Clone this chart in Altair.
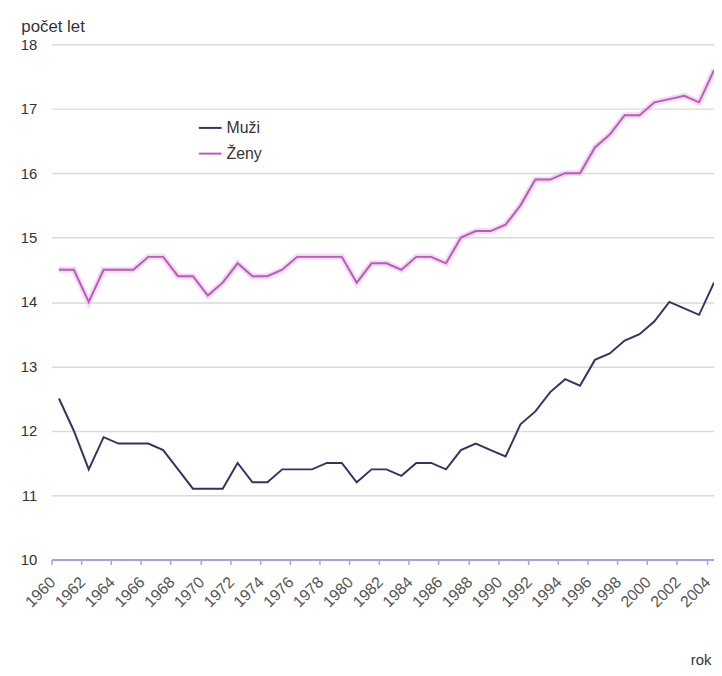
import altair as alt
import pandas as pd

years = list(range(1960, 2005))
muzi = [12.5, 12.0, 11.4, 11.9, 11.8, 11.8, 11.8, 11.7, 11.4, 11.1,
        11.1, 11.1, 11.5, 11.2, 11.2, 11.4, 11.4, 11.4, 11.5, 11.5,
        11.2, 11.4, 11.4, 11.3, 11.5, 11.5, 11.4, 11.7, 11.8, 11.7,
        11.6, 12.1, 12.3, 12.6, 12.8, 12.7, 13.1, 13.2, 13.4, 13.5,
        13.7, 14.0, 13.9, 13.8, 14.3]
zeny = [14.5, 14.5, 14.0, 14.5, 14.5, 14.5, 14.7, 14.7, 14.4, 14.4,
        14.1, 14.3, 14.6, 14.4, 14.4, 14.5, 14.7, 14.7, 14.7, 14.7,
        14.3, 14.6, 14.6, 14.5, 14.7, 14.7, 14.6, 15.0, 15.1, 15.1,
        15.2, 15.5, 15.9, 15.9, 16.0, 16.0, 16.4, 16.6, 16.9, 16.9,
        17.1, 17.15, 17.2, 17.1, 17.6]
series_names = ["Muži", "Ženy"]
series_colors = ["#333366", "#b95cb9"]
tick_years = list(range(1960, 2005, 2))
y_ticks = list(range(10, 19))

df = pd.DataFrame({
    "rok": years * 2,
    "hodnota": muzi + zeny,
    "pohlavi": [series_names[0]] * len(years) + [series_names[1]] * len(years),
})

FONT = "Liberation Sans"

x_enc = alt.X(
    "rok:Q",
    scale=alt.Scale(domain=[1959.5, 2004], nice=False, zero=False),
    axis=alt.Axis(
        values=tick_years, format="d", labelAngle=315, labelAlign="right",
        labelBaseline="middle", tickOffset=-7.5, labelOffset=1, grid=False,
        labelOverlap=False, labelBound=False,
        domainColor="#a3a3e6", domainWidth=2, tickColor="#a3a3e6", tickWidth=1.5,
        tickSize=5, labelPadding=15, labelFontSize=16, labelColor="#555555",
        title="rok", titleX=646, titleY=106, titleAlign="left",
        titleBaseline="alphabetic", titleFontWeight="normal", titleFontSize=15,
        titleColor="#333333",
    ),
)
y_enc = alt.Y(
    "hodnota:Q",
    scale=alt.Scale(domain=[10, 18], nice=False, zero=False),
    axis=alt.Axis(
        values=y_ticks, grid=True, gridColor="#dadada", gridWidth=1.5,
        domain=False, ticks=False, labelPadding=15, labelFontSize=15,
        labelColor="#333333",
        title="počet let", titleAngle=0, titleX=-31, titleY=-13,
        titleAlign="left", titleBaseline="alphabetic", titleFontWeight="normal",
        titleFontSize=17, titleColor="#333333",
    ),
)

halo = alt.Chart(df).transform_filter(
    alt.datum.pohlavi == series_names[1]
).mark_line(clip=True, strokeWidth=6, opacity=0.5, color="#f0b0f0").encode(
    x=x_enc, y=y_enc
)

lines = alt.Chart(df).mark_line(clip=True, strokeWidth=2).encode(
    x=x_enc,
    y=y_enc,
    color=alt.Color(
        "pohlavi:N",
        scale=alt.Scale(domain=series_names, range=series_colors),
        legend=alt.Legend(
            title=None, orient="none", legendX=148, legendY=72,
            symbolType="stroke", symbolSize=529, symbolStrokeWidth=2,
            labelFontSize=16, labelOffset=4, rowPadding=5, labelColor="#333333",
        ),
    ),
)

chart = (halo + lines).properties(
    width=670,
    height=521,
    autosize=alt.AutoSizeParams(type="none"),
    padding={"left": 44, "top": 33, "right": 0, "bottom": 112},
).configure(font=FONT).configure_view(stroke=None)

chart.save("out.html", embed_options={"renderer": "svg", "actions": False})
